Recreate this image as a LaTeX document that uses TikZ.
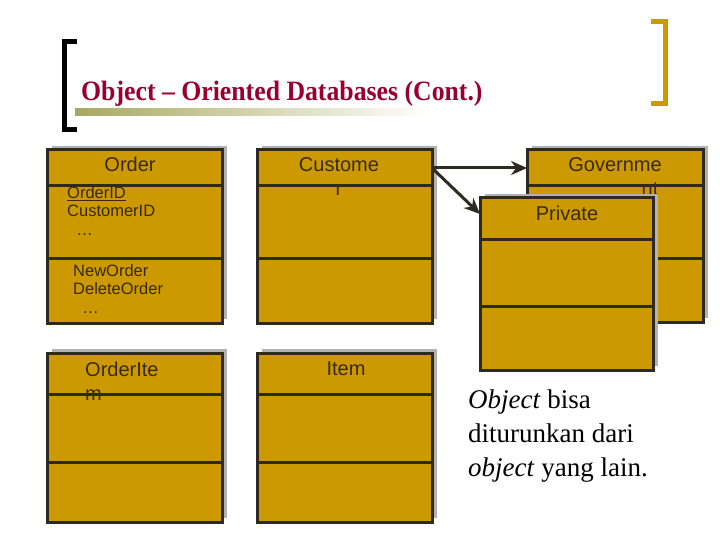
\documentclass[tikz,border=0pt]{standalone}
\usepackage{fontspec}
\setmainfont{Liberation Serif}
\newfontfamily\arialf{Liberation Sans}
\usetikzlibrary{arrows.meta}
\definecolor{gold}{HTML}{CC9900}
\definecolor{ink}{HTML}{2E2A20}
\definecolor{txt}{HTML}{3A2A10}
\definecolor{ttl}{HTML}{99002E}
\definecolor{olive}{HTML}{A8A860}
\begin{document}
\begin{tikzpicture}[x=1pt,y=-1pt,
  lbl/.style={font=\arialf\fontsize{20}{20}\selectfont,text=txt,inner sep=0,align=left},
  sml/.style={font=\arialf\fontsize{16.5}{18.5}\selectfont,text=txt,inner sep=0,align=left},
  cls/.style={fill=gold,draw=ink,line width=3pt},
  arr/.style={draw=ink,line width=3pt,-{Stealth[length=16pt,width=14pt]}}]
\useasboundingbox (0,0) rectangle (720,540);
% title
\shade[left color=olive,right color=white] (75,109) rectangle (430,116);
\draw[black,line width=5pt] (77,42) -- (64,42) -- (64,130) -- (77,130);
\draw[gold,line width=5pt] (651,22) -- (665,22) -- (665,104) -- (651,104);
\node[font=\bfseries\fontsize{28}{28}\selectfont,text=ttl,anchor=base west,inner sep=0,xscale=0.92] (title) at (81,101) {Object – Oriented Databases (Cont.)};
% class boxes
\newcommand{\umlbox}[7]{% name, x1,y1,x2,y2, div1, div2
  \fill[gray!60] (#2+5,#3-4) rectangle (#4+5,#5-4);
  \draw[cls] (#2,#3) rectangle (#4,#5);
  \draw[ink,line width=3pt] (#2,#3+#6) -- (#4,#3+#6);
  \draw[ink,line width=3pt] (#2,#3+#7) -- (#4,#3+#7);
  \coordinate (#1) at (#2,#3);
}
\umlbox{order}{47}{150}{222}{323}{36}{108}
\umlbox{cust}{257}{150}{432}{323}{36}{108}
\umlbox{gov}{527}{150}{703}{322}{36}{108}
\umlbox{oi}{47}{353}{222}{522}{41}{109}
\umlbox{item}{257}{353}{432}{522}{41}{109}
\node[lbl,anchor=north,align=center] (gt) at (615,157) {Governme\\[4pt]\hspace*{3.5em}nt};
\umlbox{priv}{480}{198}{653}{370}{41}{108}
\node[lbl,anchor=north] (pt) at (567,206) {Private};
% texts
\node[lbl,anchor=north] (ot) at (130,157) {Order};
\node[sml,anchor=north west] (oa) at (67,186) {\underline{OrderID}\\CustomerID\\\ \ …};
\node[sml,anchor=north west] (om) at (73,264) {NewOrder\\DeleteOrder\\\ \ …};
\node[lbl,anchor=north,align=center] (ct) at (339,157) {Custome\\[4pt]r};
\node[lbl,anchor=north west] (oit) at (85,362) {OrderIte\\[4pt]m};
\node[lbl,anchor=north] (it) at (346,362) {Item};
% arrows
\coordinate (src) at (432,168);
\draw[arr] (src) -- (527,168);
\draw[arr] (src) -- (480,214);
\node[font=\fontsize{27}{34}\selectfont,anchor=north west,align=left,inner sep=0] (note) at (468,390) {\textit{Object} bisa\\diturunkan dari\\\textit{object} yang lain.};
\end{tikzpicture}
\end{document}
